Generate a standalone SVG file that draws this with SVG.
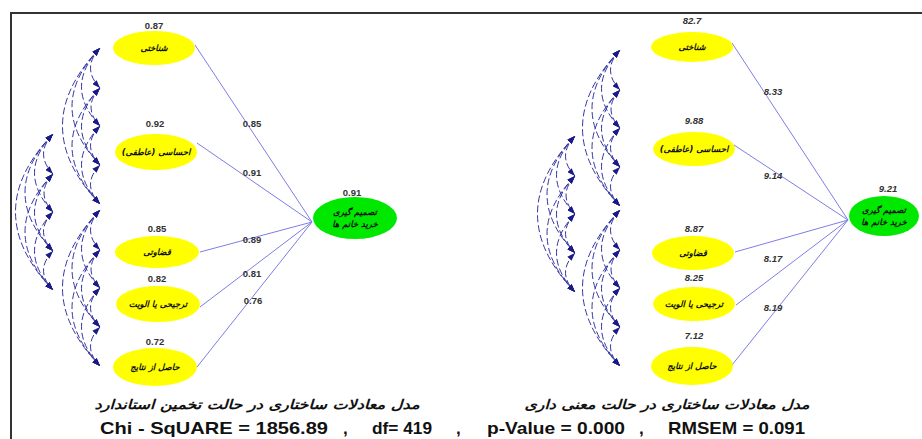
<svg xmlns="http://www.w3.org/2000/svg" xmlns:xlink="http://www.w3.org/1999/xlink" width="922" height="439" viewBox="0 0 922 439">
<style>
.frame{stroke:#333;stroke-width:2;fill:none}
.arc{fill:none;stroke:#3535a4;stroke-width:1;stroke-dasharray:7 3;marker-start:url(#ah);marker-end:url(#ah)}
.path{stroke:#7d7de6;stroke-width:1;fill:none}
.yel{fill:#ffff00}
.grn{fill:#00e800}
.lab{font-family:"DejaVu Sans",sans-serif;font-size:8.5px;font-weight:bold;font-style:italic;fill:#111;text-anchor:middle}
.num{font-family:"Liberation Sans",Arial,sans-serif;font-size:9.5px;font-weight:bold;fill:#333;text-anchor:middle}
.numi{font-family:"Liberation Sans",Arial,sans-serif;font-size:9.5px;font-weight:bold;font-style:italic;fill:#333;text-anchor:middle}
.cap{font-family:"DejaVu Sans",sans-serif;font-size:13px;font-weight:bold;font-style:italic;fill:#111;text-anchor:middle}
.stat{font-family:"Liberation Sans",Arial,sans-serif;font-size:17px;font-weight:bold;fill:#111}
</style>
<defs>
<marker id="ah" viewBox="0 0 8 6" refX="8" refY="3" markerWidth="8" markerHeight="6" markerUnits="userSpaceOnUse" orient="auto-start-reverse">
<path d="M0,0 L8,3 L0,6 z" fill="#1a1a8a"/>
</marker>
<g id="arcs">
<path class="arc" d="M0,0 Q-19,20 0,40"/>
<path class="arc" d="M0,0 Q-37,39 0,78"/>
<path class="arc" d="M0,0 Q-56,58.5 0,117"/>
<path class="arc" d="M0,0 Q-75,78 0,156"/>
<path class="arc" d="M0,40 Q-18,59 0,78"/>
<path class="arc" d="M0,40 Q-37,78.5 0,117"/>
<path class="arc" d="M0,40 Q-56,98 0,156"/>
<path class="arc" d="M0,78 Q-19,97.5 0,117"/>
<path class="arc" d="M0,78 Q-37,117 0,156"/>
<path class="arc" d="M0,117 Q-19,136.5 0,156"/>
</g>
</defs>
<rect width="922" height="439" fill="#fff"/>
<path class="frame" d="M11,439 V13 H922"/>

<g id="connectors">
<use xlink:href="#arcs" transform="translate(100,48)"/>
<use xlink:href="#arcs" transform="translate(100,210)"/>
<use xlink:href="#arcs" transform="translate(53,134)"/>
<use xlink:href="#arcs" transform="translate(620,50)"/>
<use xlink:href="#arcs" transform="translate(620,210)"/>
<use xlink:href="#arcs" transform="translate(575,136)"/>
<line class="path" x1="195" y1="45" x2="312" y2="222"/>
<line class="path" x1="197" y1="143" x2="312" y2="222"/>
<line class="path" x1="200" y1="252" x2="312" y2="222"/>
<line class="path" x1="200" y1="307" x2="312" y2="222"/>
<line class="path" x1="197" y1="367" x2="312" y2="222"/>
<line class="path" x1="732" y1="43" x2="848" y2="220"/>
<line class="path" x1="734" y1="145" x2="848" y2="220"/>
<line class="path" x1="735" y1="252" x2="848" y2="220"/>
<line class="path" x1="736" y1="305" x2="848" y2="220"/>
<line class="path" x1="732" y1="365" x2="848" y2="220"/>
<text class="num" x="252" y="127">0.85</text>
<text class="num" x="252" y="176">0.91</text>
<text class="num" x="252" y="243">0.89</text>
<text class="num" x="252" y="277">0.81</text>
<text class="num" x="253" y="304">0.76</text>
<text class="numi" x="773" y="95">8.33</text>
<text class="numi" x="773" y="179">9.14</text>
<text class="numi" x="773" y="262">8.17</text>
<text class="numi" x="773" y="311">8.19</text>
</g>

<g id="L1"><ellipse class="yel" cx="154" cy="48" rx="41" ry="17"/><text class="num" x="154" y="29">0.87</text><text class="lab" x="154" y="51">شناختی</text></g>
<g id="L2"><ellipse class="yel" cx="156" cy="152" rx="41" ry="18"/><text class="num" x="155" y="127">0.92</text><text class="lab" x="156" y="155">احساسی (عاطفی)</text></g>
<g id="L3"><ellipse class="yel" cx="157" cy="252" rx="42" ry="16"/><text class="num" x="157" y="232">0.85</text><text class="lab" x="157" y="255">قضاوتی</text></g>
<g id="L4"><ellipse class="yel" cx="158" cy="304" rx="42" ry="18"/><text class="num" x="157" y="282">0.82</text><text class="lab" x="158" y="307">ترجیحی یا الویت</text></g>
<g id="L5"><ellipse class="yel" cx="155" cy="367" rx="42" ry="19"/><text class="num" x="155" y="345">0.72</text><text class="lab" x="155" y="370">حاصل از نتایج</text></g>
<g id="LC"><ellipse class="grn" cx="355" cy="218" rx="42" ry="21"/><text class="num" x="352" y="196">0.91</text><text class="lab" x="355" y="215">تصمیم گیری</text><text class="lab" x="355" y="227">خرید خانم ها</text></g>

<g id="R1"><ellipse class="yel" cx="692" cy="47" rx="41" ry="15"/><text class="numi" x="692" y="24">82.7</text><text class="lab" x="692" y="50">شناختی</text></g>
<g id="R2"><ellipse class="yel" cx="694" cy="149" rx="41" ry="17"/><text class="numi" x="694" y="124">9.88</text><text class="lab" x="694" y="152">احساسی (عاطفی)</text></g>
<g id="R3"><ellipse class="yel" cx="693" cy="253" rx="41" ry="17"/><text class="numi" x="694" y="232">8.87</text><text class="lab" x="693" y="256">قضاوتی</text></g>
<g id="R4"><ellipse class="yel" cx="694" cy="304" rx="41" ry="17"/><text class="numi" x="694" y="281">8.25</text><text class="lab" x="694" y="307">ترجیحی یا الویت</text></g>
<g id="R5"><ellipse class="yel" cx="692" cy="366" rx="41" ry="19"/><text class="numi" x="694" y="339">7.12</text><text class="lab" x="692" y="369">حاصل از نتایج</text></g>
<g id="RC"><ellipse class="grn" cx="884" cy="216" rx="35" ry="20"/><text class="numi" x="888" y="192">9.21</text><text class="lab" x="884" y="213">تصمیم گیری</text><text class="lab" x="884" y="225">خرید خانم ها</text></g>

<text class="cap" x="257" y="409" textLength="325" lengthAdjust="spacingAndGlyphs">مدل معادلات ساختاری در حالت تخمین استاندارد</text>
<text class="cap" x="667" y="409" textLength="285" lengthAdjust="spacingAndGlyphs">مدل معادلات ساختاری در حالت معنی داری</text>

<text class="stat" x="100" y="434" textLength="228" lengthAdjust="spacingAndGlyphs">Chi - SqUARE = 1856.89</text>
<text class="stat" x="343" y="434">,</text>
<text class="stat" x="372" y="434" textLength="60" lengthAdjust="spacingAndGlyphs">df= 419</text>
<text class="stat" x="456" y="434">,</text>
<text class="stat" x="487" y="434" textLength="138" lengthAdjust="spacingAndGlyphs">p-Value = 0.000</text>
<text class="stat" x="639" y="434">,</text>
<text class="stat" x="668" y="434" textLength="137" lengthAdjust="spacingAndGlyphs">RMSEM = 0.091</text>
</svg>
